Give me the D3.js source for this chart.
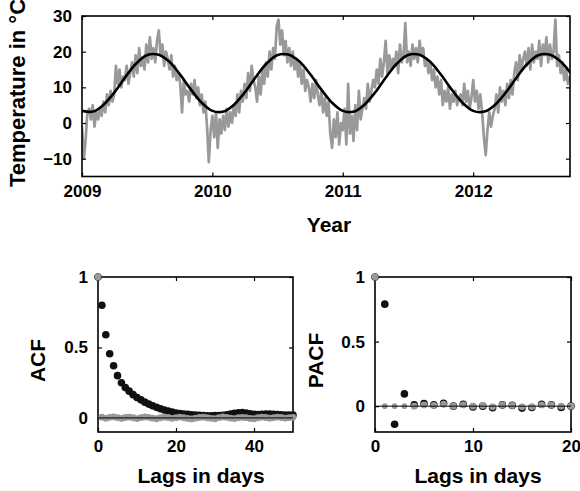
<!DOCTYPE html>
<html>
<head>
<meta charset="utf-8">
<script src="https://cdn.jsdelivr.net/npm/d3@7"></script>
<style>
  body { margin: 0; background: #fff; }
  svg text { font-family: "Liberation Sans", Arial, sans-serif; font-weight: bold; }
</style>
</head>
<body>
<div id="graph-container"></div>
<script>
// Daily temperature, read every 5 days from Jan 1 of each year
const temp2009 = [-1, -10, -5, 3, 4, 1, 5, -1, 3, 1, 4, 2, 6, 3, 8, 5, 9, 6, 8, 16, 11, 15, 10, 13, 12, 16, 11, 14, 17, 13,
  19, 14, 21, 16, 18, 15, 22, 17, 24, 18, 21, 17, 23, 26, 19, 22, 16, 20, 18, 15, 19, 13, 16, 12, 14, 11, 3, 12, 8, 9,
  6, 11, 8, 12, 7, 10, 5, 8, 3, 6, -1, -11, -2];
const temp2010 = [2, -4, 3, -7, 1, -3, 2, -2, 4, -1, 3, 0, 5, 2, 8, 3, 9, 6, 11, 7, 14, 9, 16, 12, 10, 6, 13, 8, 15, 11,
  17, 13, 20, 15, 21, 18, 27, 29, 22, 26, 19, 23, 17, 21, 16, 20, 15, 18, 13, 17, 11, 15, 9, 12, 10, 6, 11, 7, 12, 8,
  5, 9, 3, 7, 2, 6, -3, -7, 1, -4, 3, -6, 0];
const temp2011 = [-2, 4, -6, 11, -3, 2, -5, 5, -2, 9, 1, 4, 7, 4, 11, 6, 9, 12, 10, 15, 11, 18, 13, 17, 23, 14, 19, 15, 18, 16,
  20, 14, 22, 17, 19, 28, 17, 20, 16, 22, 18, 21, 17, 23, 19, 21, 16, 18, 14, 17, 12, 15, 10, 13, 8, 12, 5, 9, 6, 10,
  4, 8, 6, 9, 5, 7, 8, 5, 11, 6, 9, 4, 7];
const temp2012 = [12, 6, 9, 4, 8, 3, -4, -9, -2, 3, -1, 2, 4, 8, 3, 10, 6, 9, 5, 11, 7, 12, 8, 14, 17, 12, 19, 15, 18, 20,
  16, 21, 15, 22, 17, 20, 18, 23, 16, 22, 19, 24, 17, 22, 18, 20, 29, 16, 19, 14, 17, 12, 15, 11, 13];
const tempYears = [2009, 2010, 2011, 2012];
const tempSeries = [temp2009, temp2010, temp2011, temp2012];

// Seasonal fit, read on the 1st of each month
const fit2009 = [3.4, 3.2, 5.0, 8.5, 12.7, 16.6, 19.0, 19.2, 17.3, 13.8, 9.5, 5.8];
const fit2010 = [3.4, 3.2, 5.0, 8.5, 12.7, 16.6, 19.0, 19.2, 17.3, 13.8, 9.5, 5.8];
const fit2011 = [3.4, 3.2, 5.0, 8.5, 12.7, 16.6, 19.0, 19.2, 17.3, 13.8, 9.5, 5.8];
const fit2012 = [3.4, 3.2, 5.0, 8.5, 12.7, 16.6, 19.0, 19.2, 17.3, 13.8];
const fitSeries = [fit2009, fit2010, fit2011, fit2012];

const yearTicks = [2009, 2010, 2011, 2012];
const tempTicks = [-10, 0, 10, 20, 30];

// ACF, lags 0..50
const acfRaw = [1, 0.80, 0.59, 0.455, 0.37, 0.30, 0.25, 0.215, 0.19, 0.165, 0.145, 0.128, 0.112, 0.098, 0.086, 0.075,
  0.065, 0.056, 0.048, 0.041, 0.035, 0.031, 0.028, 0.025, 0.022, 0.02, 0.018, 0.016, 0.015, 0.015, 0.016, 0.017, 0.019,
  0.022, 0.027, 0.032, 0.036, 0.038, 0.035, 0.03, 0.026, 0.024, 0.025, 0.027, 0.028, 0.026, 0.024, 0.022, 0.021, 0.02, 0.02];
const acfResid = [1, 0.005, -0.003, 0.004, 0.008, 0.002, -0.004, 0.003, 0.006, 0.001, -0.005, 0.002, 0.007, 0.004, -0.002,
  -0.006, 0.001, 0.005, 0.003, -0.003, 0.002, 0.006, 0.001, -0.004, -0.007, -0.002, 0.003, 0.005, 0.001, -0.003, -0.006,
  0.002, 0.007, 0.004, -0.002, -0.005, 0.001, 0.004, 0.002, -0.004, -0.006, 0.001, 0.005, 0.003, -0.002, 0.002, 0.006,
  0.003, -0.001, 0.002, 0.004];
// PACF, lags 0..20
const pacfRaw = [1, 0.79, -0.14, 0.095, 0.01, 0.02, 0.01, 0.022, 0.0, 0.015, -0.006, 0.0, -0.012, 0.01, 0.006, -0.015,
  -0.01, 0.015, 0.01, -0.01, 0.0];
const pacfResid = [1, 0, 0, 0, 0.0, 0.01, 0.005, 0.015, 0.0, 0.01, 0.0, 0.005, -0.005, 0.01, 0.005, -0.005, -0.005,
  0.01, 0.01, 0.0, 0.0];
const acfXTicks = [0, 20, 40];
const pacfXTicks = [0, 10, 20];
const corrYTicks = [0, 0.5, 1];

const svg = d3.select("#graph-container")
  .append("svg")
    .attr("width", 580)
    .attr("height", 491);

const tickSize = 17;
const labelSize = 21;

// Box with inward ticks on all four sides
function drawBox(x, y, xTicks, yTicks, xFormat, yFormat) {
  const [x0, x1] = x.range();
  const [y0, y1] = y.range();
  const fix = g => {
    g.select(".domain").remove();
    g.attr("font-size", tickSize).attr("font-family", null);
    g.selectAll("text").attr("fill", "#000");
    g.selectAll("line").attr("stroke-width", 1.2);
  };
  svg.append("g").attr("transform", `translate(0,${y0})`)
    .call(d3.axisBottom(x).tickValues(xTicks).tickSize(-4).tickPadding(8).tickFormat(xFormat)).call(fix);
  svg.append("g").attr("transform", `translate(0,${y1})`)
    .call(d3.axisTop(x).tickValues(xTicks).tickSize(-4).tickFormat("")).call(fix);
  svg.append("g").attr("transform", `translate(${x0},0)`)
    .call(d3.axisLeft(y).tickValues(yTicks).tickSize(-4).tickPadding(10).tickFormat(yFormat)).call(fix);
  svg.append("g").attr("transform", `translate(${x1},0)`)
    .call(d3.axisRight(y).tickValues(yTicks).tickSize(-4).tickFormat("")).call(fix);
  svg.append("rect")
    .attr("x", x0).attr("y", y1)
    .attr("width", x1 - x0).attr("height", y0 - y1)
    .attr("fill", "none").attr("stroke", "#000").attr("stroke-width", 1.6);
}

// ---------- Top panel: temperature ----------
const x = d3.scaleTime()
  .domain([new Date(2009, 0, 1), new Date(2012, 8, 28)])
  .range([82, 570]);
const y = d3.scaleLinear()
  .domain([-15, 30])
  .range([176.5, 16]);

const tempData = tempSeries.flatMap((vals, k) =>
  vals.map((v, i) => ({ date: d3.timeDay.offset(new Date(tempYears[k], 0, 1), 5 * i), value: v })));
const fitData = fitSeries.flatMap((vals, k) =>
  vals.map((v, m) => ({ date: new Date(tempYears[k], m, 1), value: v })));

svg.append("clipPath").attr("id", "clip-top")
  .append("rect").attr("x", 82).attr("y", 16).attr("width", 488).attr("height", 160.5);

const line = d3.line()
  .x(d => x(d.date))
  .y(d => y(d.value));

svg.append("path")
  .datum(tempData)
  .attr("clip-path", "url(#clip-top)")
  .attr("fill", "none")
  .attr("stroke", "#999")
  .attr("stroke-width", 2.7)
  .attr("stroke-linejoin", "round")
  .attr("d", line);

svg.append("path")
  .datum(fitData)
  .attr("clip-path", "url(#clip-top)")
  .attr("fill", "none")
  .attr("stroke", "#000")
  .attr("stroke-width", 2.6)
  .attr("d", line.curve(d3.curveCatmullRom));

drawBox(x, y, yearTicks.map(yr => new Date(yr, 0, 1)), tempTicks, d3.timeFormat("%Y"), d => d < 0 ? "\u2212" + (-d) : d);

svg.append("text")
  .attr("transform", "translate(25,93) rotate(-90)")
  .attr("text-anchor", "middle")
  .attr("font-size", 22)
  .text("Temperature in °C");
svg.append("text")
  .attr("x", 329).attr("y", 232)
  .attr("text-anchor", "middle")
  .attr("font-size", labelSize)
  .text("Year");

// ---------- Correlation panels ----------
function corrPanel(lagMax, xRange, yDomain, raw, resid, xTicks, yLabel, yLabelX, xLabelX, smallResid) {
  const xs = d3.scaleLinear().domain([0, lagMax]).range(xRange);
  const ys = d3.scaleLinear().domain(yDomain).range([432, 277]);

  drawBox(xs, ys, xTicks, corrYTicks, d3.format(""), d3.format(""));

  svg.append("g").selectAll("circle")
    .data(raw)
    .join("circle")
      .attr("cx", (d, i) => xs(i))
      .attr("cy", d => ys(d))
      .attr("r", 3.8)
      .attr("fill", "#111");

  svg.append("g").selectAll("circle")
    .data(resid)
    .join("circle")
      .attr("cx", (d, i) => xs(i))
      .attr("cy", d => ys(d))
      .attr("r", (d, i) => smallResid && i > 0 && i < 4 ? 2.8 : 3.4)
      .attr("fill", "#999");

  svg.append("line")
    .attr("x1", xRange[0]).attr("x2", xRange[1])
    .attr("y1", ys(0)).attr("y2", ys(0))
    .attr("stroke", "#000").attr("stroke-width", 1);

  svg.append("text")
    .attr("transform", `translate(${yLabelX},${(432 + 277) / 2 + 6}) rotate(-90)`)
    .attr("text-anchor", "middle")
    .attr("font-size", labelSize)
    .text(yLabel);
  svg.append("text")
    .attr("x", xLabelX).attr("y", 483)
    .attr("text-anchor", "middle")
    .attr("font-size", labelSize)
    .text("Lags in days");
}

corrPanel(50, [98, 293], [-0.1, 1], acfRaw, acfResid, acfXTicks, "ACF", 45, 201, false);
corrPanel(20, [375, 571], [-0.2, 1], pacfRaw, pacfResid, pacfXTicks, "PACF", 323, 478, true);
</script>
</body>
</html>
